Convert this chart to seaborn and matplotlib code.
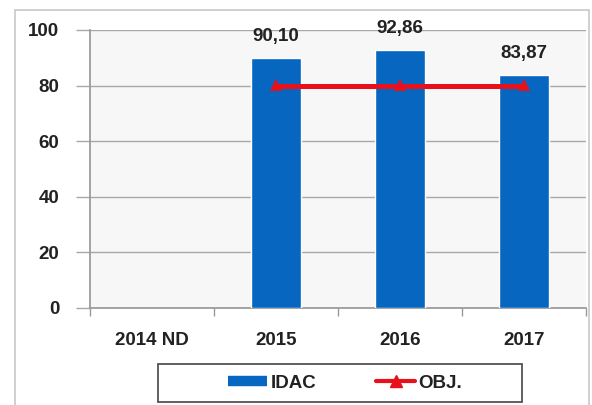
import numpy as np
import pandas as pd
import matplotlib
matplotlib.use("Agg")
import matplotlib.pyplot as plt
from matplotlib.patches import Rectangle
from matplotlib.lines import Line2D
import seaborn as sns

# Data
categories = ["2014 ND", "2015", "2016", "2017"]
idac = [np.nan, 90.10, 92.86, 83.87]
obj = [np.nan, 80.0, 80.0, 80.0]
y_ticks = [0, 20, 40, 60, 80, 100]

sns.set_theme(style="white")
plt.rcParams["font.family"] = ["Liberation Sans", "DejaVu Sans"]
plt.rcParams["font.weight"] = "bold"

BLUE = "#0666C0"
RED = "#E8101A"
TXT = "#222222"
FS = 13.5

df = pd.DataFrame({"year": categories, "IDAC": idac, "OBJ": obj})

fig = plt.figure(figsize=(5.92, 4.05), dpi=100)
fig.patch.set_facecolor("white")
ax = fig.add_axes([90 / 592, 1 - 308 / 405, 496 / 592, 278 / 405])
ax.set_facecolor("#f7f7f7")

# outer chart frame
fig.patches.append(Rectangle((15 / 592, -0.05), 574 / 592, 1 - 10 / 405 + 0.05,
                             transform=fig.transFigure, fill=False,
                             edgecolor="#c8c8c8", linewidth=1.2, zorder=0))

bars = df.dropna(subset=["IDAC"])
sns.barplot(data=bars, x="year", y="IDAC", order=categories, color=BLUE,
            width=0.41, saturation=1, ax=ax, zorder=3)

line = df.dropna(subset=["OBJ"])
sns.pointplot(data=line, x="year", y="OBJ", order=categories, color=RED,
              markers="^", linestyles="-", ax=ax, zorder=4,
              markersize=5, linewidth=3.6)

# value labels above bars
for i, v in enumerate(idac):
    if not np.isnan(v):
        ax.annotate(f"{v:.2f}".replace(".", ","), (i, v), xytext=(0, 9),
                    textcoords="offset points", ha="center", va="bottom",
                    fontsize=FS, fontweight="bold", color=TXT)

ax.set_ylim(0, 100)
ax.set_xlim(-0.5, 3.5)
ax.set_yticks(y_ticks)
ax.set_yticklabels([str(t) for t in y_ticks], fontsize=FS, fontweight="bold", color=TXT)
ax.set_xticks(range(len(categories)))
ax.set_xticklabels(categories, fontsize=FS, fontweight="bold", color=TXT)
ax.set_xlabel("")
ax.set_ylabel("")
ax.yaxis.grid(True, color="#a8a8a8", linewidth=1.0, zorder=0)
ax.set_axisbelow(True)

for s in ["top", "right"]:
    ax.spines[s].set_visible(False)
ax.spines["left"].set_color("#999999")
ax.spines["bottom"].set_color("#999999")

# tick marks: y at gridlines, x between categories
ax.tick_params(axis="y", length=10, color="#a8a8a8", width=1, pad=12, left=True)
ax.tick_params(axis="x", length=0, pad=17, bottom=True)
ax.set_xticks([-0.5, 0.5, 1.5, 2.5, 3.5], minor=True)
ax.tick_params(axis="x", which="minor", length=6, color="#999999", width=1, bottom=True)

# legend box and entries
fig.patches.append(Rectangle((158 / 592, 1 - 402 / 405), 364 / 592, 38 / 405,
                             transform=fig.transFigure, fill=True,
                             facecolor="white", edgecolor="#444444",
                             linewidth=1.2, zorder=1))
handles = [Line2D([0], [0], color=BLUE, linewidth=7.5, solid_capstyle="butt"),
           Line2D([0], [0], color=RED, linewidth=3, marker="^", markersize=8)]
leg = fig.legend(handles, ["IDAC", "OBJ."], loc="center",
                 bbox_to_anchor=(345 / 592, 1 - 383 / 405), ncol=2,
                 frameon=False, prop={"size": FS, "weight": "bold"},
                 columnspacing=3.2, handlelength=2.1, handletextpad=0.15,
                 borderpad=0, borderaxespad=0)
leg.set_zorder(2)
for t in leg.get_texts():
    t.set_color(TXT)

fig.savefig("out.png", dpi=100)
